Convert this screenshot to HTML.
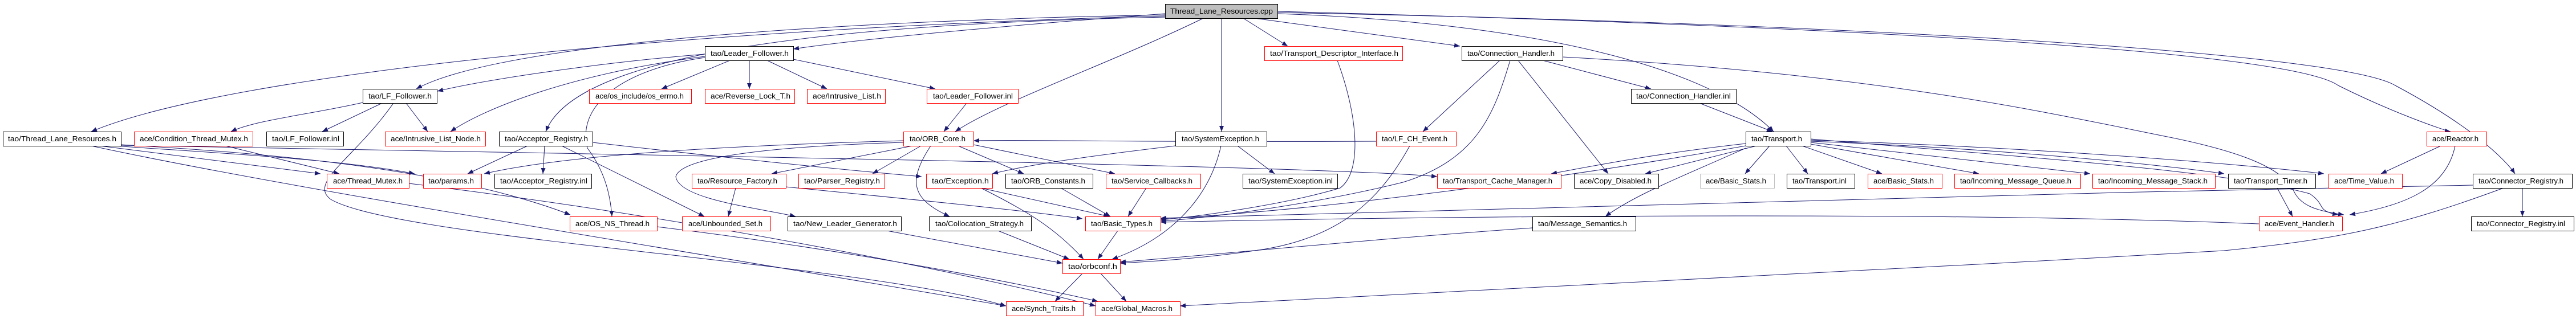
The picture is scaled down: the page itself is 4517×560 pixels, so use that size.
<!DOCTYPE html>
<html><head><meta charset="utf-8"><style>
html,body{margin:0;padding:0;background:#fff;}
svg{display:block;}
text{font-family:"Liberation Sans",sans-serif;font-size:12.5px;fill:#000;}
.e{stroke:#191970;stroke-width:1;fill:none;marker-end:url(#a);}
.b{fill:#fff;stroke:#000;stroke-width:1;}
.r{fill:#fff;stroke:#ff0000;stroke-width:1;}
.g{fill:#fff;stroke:#bfbfbf;stroke-width:1;}
</style></head><body>
<svg width="4517" height="560" viewBox="0 0 4517 560" xmlns="http://www.w3.org/2000/svg">
<defs><marker id="a" markerUnits="userSpaceOnUse" markerWidth="11" markerHeight="8" refX="10" refY="4" orient="auto"><path d="M0,0 L10,4 L0,8 z" fill="#191970"/></marker></defs>
<g>
<path class="e" d="M2043,28 C1200,50 400,130 160,231"/>
<path class="e" d="M2043,26 C1300,40 850,90 730,156"/>
<path class="e" d="M2043,24 C1700,50 1500,70 1391,86"/>
<path class="e" d="M2043,30 C1300,45 1000,120 957,231"/>
<path class="e" d="M2110,32 C1950,110 1750,180 1675,231"/>
<path class="e" d="M2142,32 L2142,231"/>
<path class="e" d="M2180,32 L2258,81"/>
<path class="e" d="M2200,32 L2560,81"/>
<path class="e" d="M2241,24 C2700,40 3000,120 3110,231"/>
<path class="e" d="M2241,20 C3000,40 4000,80 4100,150 C4200,200 4290,230 4297,231"/>
<path class="e" d="M2241,22 C3200,40 4100,90 4200,150 C4350,230 4400,290 4410,305"/>
<path class="e" d="M1236,95 C1050,110 850,140 767,160"/>
<path class="e" d="M1236,99 C1000,130 850,190 790,231"/>
<path class="e" d="M1280,106 L1160,156"/>
<path class="e" d="M1314,106 L1314,156"/>
<path class="e" d="M1345,106 L1450,156"/>
<path class="e" d="M1391,104 L1640,156"/>
<path class="e" d="M1236,101 C1100,120 1010,180 1030,260 C1060,300 1070,340 1073,380"/>
<path class="e" d="M636,180 C550,200 450,210 405,231"/>
<path class="e" d="M670,181 L565,231"/>
<path class="e" d="M712,181 L750,231"/>
<path class="e" d="M690,181 C620,280 540,320 580,350 C700,420 1500,460 1764,537"/>
<path class="e" d="M175,256 L562,305"/>
<path class="e" d="M200,256 C400,270 600,280 727,305"/>
<path class="e" d="M212,254 C500,270 800,300 1000,377"/>
<path class="e" d="M212,255 C1000,270 2300,290 2520,310"/>
<path class="e" d="M160,256 C500,330 1200,440 1764,537"/>
<path class="e" d="M395,256 L595,305"/>
<path class="e" d="M717,322 C1200,380 1700,480 1921,537"/>
<path class="e" d="M1152,398 C1500,440 1800,500 1925,529"/>
<path class="e" d="M925,256 L820,305"/>
<path class="e" d="M955,256 L952,305"/>
<path class="e" d="M985,256 L1235,380"/>
<path class="e" d="M1039,250 C1300,280 1500,300 1616,310"/>
<path class="e" d="M1584,247 C1300,255 1000,270 849,305"/>
<path class="e" d="M1600,256 L1353,305"/>
<path class="e" d="M1615,256 L1530,305"/>
<path class="e" d="M1680,256 L1795,305"/>
<path class="e" d="M1707,254 L1955,305"/>
<path class="e" d="M1632,256 C1590,320 1600,350 1665,380"/>
<path class="e" d="M1584,250 C1250,260 1190,290 1185,310 C1190,350 1330,365 1395,380"/>
<path class="e" d="M1695,181 L1655,231"/>
<path class="e" d="M2061,256 C1900,275 1800,290 1740,305"/>
<path class="e" d="M2170,256 L2235,305"/>
<path class="e" d="M2141,256 C2120,350 2050,420 1950,455"/>
<path class="e" d="M1290,330 L1277,380"/>
<path class="e" d="M1378,328 C1600,350 1800,370 1898,384"/>
<path class="e" d="M1720,330 L1945,380"/>
<path class="e" d="M1720,330 C1800,370 1850,400 1900,455"/>
<path class="e" d="M1860,330 L1947,380"/>
<path class="e" d="M2010,330 L1978,380"/>
<path class="e" d="M1750,405 L1875,455"/>
<path class="e" d="M1555,405 L1863,462"/>
<path class="e" d="M1960,405 L1925,455"/>
<path class="e" d="M1898,480 L1850,529"/>
<path class="e" d="M1930,480 L1975,529"/>
<path class="e" d="M2345,106 C2380,200 2390,300 2350,330 C2250,360 2100,380 2035,386"/>
<path class="e" d="M2630,106 L2495,231"/>
<path class="e" d="M2705,106 L2895,156"/>
<path class="e" d="M2662,106 L2820,305"/>
<path class="e" d="M2648,106 C2620,200 2590,280 2460,320 C2300,360 2100,385 2035,388"/>
<path class="e" d="M2740,100 C3300,130 3600,200 3800,240 C3950,270 4000,300 4020,330 C4030,360 4060,370 4110,377"/>
<path class="e" d="M2980,181 L3108,231"/>
<path class="e" d="M2472,256 C2420,350 2350,420 2200,440 C2100,455 2000,460 1964,462"/>
<path class="e" d="M2413,248 C2000,250 1800,245 1707,247"/>
<path class="e" d="M3061,252 C2900,270 2800,290 2720,305"/>
<path class="e" d="M3080,256 L2885,305"/>
<path class="e" d="M3103,256 L3060,305"/>
<path class="e" d="M3132,256 L3170,305"/>
<path class="e" d="M3160,256 L3300,305"/>
<path class="e" d="M3175,253 L3470,305"/>
<path class="e" d="M3175,250 L3665,305"/>
<path class="e" d="M3175,248 C3500,260 3800,290 3900,305"/>
<path class="e" d="M3175,246 C3600,260 3950,290 4075,305"/>
<path class="e" d="M3061,260 C2950,310 2870,340 2815,380"/>
<path class="e" d="M3061,256 C2700,320 2300,370 2035,384"/>
<path class="e" d="M3175,244 C3600,280 3900,300 4050,340 C4080,360 4060,370 4100,377"/>
<path class="e" d="M4280,256 L4175,305"/>
<path class="e" d="M4305,256 C4290,330 4220,360 4120,377"/>
<path class="e" d="M3993,330 L4020,380"/>
<path class="e" d="M3961,393 C3400,370 2500,380 2035,390"/>
<path class="e" d="M4423,330 L4423,380"/>
<path class="e" d="M4336,325 C3500,340 2500,370 2035,383"/>
<path class="e" d="M4390,330 C4200,400 4100,420 3900,440 C3200,480 2400,520 2069,537"/>
<path class="e" d="M2687,400 C2400,420 2100,450 1964,460"/>
</g>
<g>
<rect x="2043.5" y="7.5" width="197" height="25" fill="#bfbfbf" stroke="#000"/><text x="2052" y="24" textLength="180" lengthAdjust="spacingAndGlyphs">Thread_Lane_Resources.cpp</text>
<rect class="b" x="5.5" y="231.5" width="207" height="25"/><text x="14" y="248" textLength="190" lengthAdjust="spacingAndGlyphs">tao/Thread_Lane_Resources.h</text>
<rect class="r" x="235.5" y="231.5" width="208" height="25"/><text x="245" y="248" textLength="190" lengthAdjust="spacingAndGlyphs">ace/Condition_Thread_Mutex.h</text>
<rect class="b" x="467.5" y="231.5" width="135" height="25"/><text x="477" y="248" textLength="118" lengthAdjust="spacingAndGlyphs">tao/LF_Follower.inl</text>
<rect class="r" x="675.5" y="231.5" width="176" height="25"/><text x="685" y="248" textLength="158" lengthAdjust="spacingAndGlyphs">ace/Intrusive_List_Node.h</text>
<rect class="r" x="573.5" y="305.5" width="144" height="25"/><text x="584" y="322" textLength="122" lengthAdjust="spacingAndGlyphs">ace/Thread_Mutex.h</text>
<rect class="r" x="742.5" y="305.5" width="102" height="25"/><text x="751" y="322" textLength="80" lengthAdjust="spacingAndGlyphs">tao/params.h</text>
<rect class="b" x="636.5" y="156.5" width="130" height="25"/><text x="646" y="173" textLength="111" lengthAdjust="spacingAndGlyphs">tao/LF_Follower.h</text>
<rect class="b" x="1236.5" y="81.5" width="155" height="25"/><text x="1246" y="98" textLength="137" lengthAdjust="spacingAndGlyphs">tao/Leader_Follower.h</text>
<rect class="r" x="1033.5" y="156.5" width="179" height="25"/><text x="1044" y="173" textLength="155" lengthAdjust="spacingAndGlyphs">ace/os_include/os_errno.h</text>
<rect class="r" x="1236.5" y="156.5" width="157" height="25"/><text x="1246" y="173" textLength="140" lengthAdjust="spacingAndGlyphs">ace/Reverse_Lock_T.h</text>
<rect class="r" x="1415.5" y="156.5" width="137" height="25"/><text x="1425" y="173" textLength="120" lengthAdjust="spacingAndGlyphs">ace/Intrusive_List.h</text>
<rect class="b" x="875.5" y="231.5" width="164" height="25"/><text x="885" y="248" textLength="146" lengthAdjust="spacingAndGlyphs">tao/Acceptor_Registry.h</text>
<rect class="b" x="867.5" y="305.5" width="170" height="25"/><text x="877" y="322" textLength="153" lengthAdjust="spacingAndGlyphs">tao/Acceptor_Registry.inl</text>
<rect class="r" x="1213.5" y="305.5" width="165" height="25"/><text x="1223" y="322" textLength="140" lengthAdjust="spacingAndGlyphs">tao/Resource_Factory.h</text>
<rect class="r" x="1400.5" y="305.5" width="151" height="25"/><text x="1410" y="322" textLength="133" lengthAdjust="spacingAndGlyphs">tao/Parser_Registry.h</text>
<rect class="r" x="999.5" y="380.5" width="153" height="25"/><text x="1009" y="397" textLength="130" lengthAdjust="spacingAndGlyphs">ace/OS_NS_Thread.h</text>
<rect class="r" x="1196.5" y="380.5" width="155" height="25"/><text x="1207" y="397" textLength="130" lengthAdjust="spacingAndGlyphs">ace/Unbounded_Set.h</text>
<rect class="b" x="1381.5" y="380.5" width="199" height="25"/><text x="1391" y="397" textLength="182" lengthAdjust="spacingAndGlyphs">tao/New_Leader_Generator.h</text>
<rect class="r" x="2217.5" y="81.5" width="242" height="25"/><text x="2227" y="98" textLength="225" lengthAdjust="spacingAndGlyphs">tao/Transport_Descriptor_Interface.h</text>
<rect class="r" x="1625.5" y="156.5" width="160" height="25"/><text x="1636" y="173" textLength="140" lengthAdjust="spacingAndGlyphs">tao/Leader_Follower.inl</text>
<rect class="r" x="1584.5" y="231.5" width="123" height="25"/><text x="1595" y="248" textLength="98" lengthAdjust="spacingAndGlyphs">tao/ORB_Core.h</text>
<rect class="b" x="2061.5" y="231.5" width="160" height="25"/><text x="2072" y="248" textLength="136" lengthAdjust="spacingAndGlyphs">tao/SystemException.h</text>
<rect class="r" x="1624.5" y="305.5" width="116" height="25"/><text x="1634" y="322" textLength="100" lengthAdjust="spacingAndGlyphs">tao/Exception.h</text>
<rect class="b" x="1763.5" y="305.5" width="153" height="25"/><text x="1773" y="322" textLength="130" lengthAdjust="spacingAndGlyphs">tao/ORB_Constants.h</text>
<rect class="r" x="1939.5" y="305.5" width="166" height="25"/><text x="1949" y="322" textLength="142" lengthAdjust="spacingAndGlyphs">tao/Service_Callbacks.h</text>
<rect class="b" x="2179.5" y="305.5" width="166" height="25"/><text x="2189" y="322" textLength="148" lengthAdjust="spacingAndGlyphs">tao/SystemException.inl</text>
<rect class="b" x="1629.5" y="380.5" width="179" height="25"/><text x="1640" y="397" textLength="155" lengthAdjust="spacingAndGlyphs">tao/Collocation_Strategy.h</text>
<rect class="r" x="1903.5" y="380.5" width="132" height="25"/><text x="1913" y="397" textLength="108" lengthAdjust="spacingAndGlyphs">tao/Basic_Types.h</text>
<rect class="r" x="1863.5" y="455.5" width="101" height="25"/><text x="1873" y="472" textLength="86" lengthAdjust="spacingAndGlyphs">tao/orbconf.h</text>
<rect class="r" x="1764.5" y="529.5" width="135" height="25"/><text x="1774" y="546" textLength="112" lengthAdjust="spacingAndGlyphs">ace/Synch_Traits.h</text>
<rect class="r" x="1921.5" y="529.5" width="148" height="25"/><text x="1931" y="546" textLength="125" lengthAdjust="spacingAndGlyphs">ace/Global_Macros.h</text>
<rect class="b" x="2563.5" y="81.5" width="177" height="25"/><text x="2573" y="98" textLength="153" lengthAdjust="spacingAndGlyphs">tao/Connection_Handler.h</text>
<rect class="b" x="2860.5" y="156.5" width="184" height="25"/><text x="2869" y="173" textLength="166" lengthAdjust="spacingAndGlyphs">tao/Connection_Handler.inl</text>
<rect class="r" x="2413.5" y="231.5" width="140" height="25"/><text x="2423" y="248" textLength="115" lengthAdjust="spacingAndGlyphs">tao/LF_CH_Event.h</text>
<rect class="r" x="2520.5" y="305.5" width="217" height="25"/><text x="2530" y="322" textLength="192" lengthAdjust="spacingAndGlyphs">tao/Transport_Cache_Manager.h</text>
<rect class="b" x="2760.5" y="305.5" width="148" height="25"/><text x="2770" y="322" textLength="126" lengthAdjust="spacingAndGlyphs">ace/Copy_Disabled.h</text>
<rect class="g" x="2981.5" y="305.5" width="130" height="25"/><text x="2991" y="322" textLength="106" lengthAdjust="spacingAndGlyphs">ace/Basic_Stats.h</text>
<rect class="b" x="2687.5" y="380.5" width="181" height="25"/><text x="2697" y="397" textLength="156" lengthAdjust="spacingAndGlyphs">tao/Message_Semantics.h</text>
<rect class="b" x="3061.5" y="231.5" width="114" height="25"/><text x="3071" y="248" textLength="89" lengthAdjust="spacingAndGlyphs">tao/Transport.h</text>
<rect class="b" x="3133.5" y="305.5" width="119" height="25"/><text x="3143" y="322" textLength="95" lengthAdjust="spacingAndGlyphs">tao/Transport.inl</text>
<rect class="r" x="3275.5" y="305.5" width="130" height="25"/><text x="3285" y="322" textLength="106" lengthAdjust="spacingAndGlyphs">ace/Basic_Stats.h</text>
<rect class="r" x="3427.5" y="305.5" width="221" height="25"/><text x="3437" y="322" textLength="195" lengthAdjust="spacingAndGlyphs">tao/Incoming_Message_Queue.h</text>
<rect class="r" x="3669.5" y="305.5" width="215" height="25"/><text x="3679" y="322" textLength="192" lengthAdjust="spacingAndGlyphs">tao/Incoming_Message_Stack.h</text>
<rect class="b" x="3907.5" y="305.5" width="153" height="25"/><text x="3917" y="322" textLength="129" lengthAdjust="spacingAndGlyphs">tao/Transport_Timer.h</text>
<rect class="r" x="4083.5" y="305.5" width="129" height="25"/><text x="4093" y="322" textLength="105" lengthAdjust="spacingAndGlyphs">ace/Time_Value.h</text>
<rect class="r" x="4255.5" y="231.5" width="105" height="25"/><text x="4265" y="248" textLength="81" lengthAdjust="spacingAndGlyphs">ace/Reactor.h</text>
<rect class="b" x="4336.5" y="305.5" width="174" height="25"/><text x="4346" y="322" textLength="149" lengthAdjust="spacingAndGlyphs">tao/Connector_Registry.h</text>
<rect class="r" x="3961.5" y="380.5" width="146" height="25"/><text x="3971" y="397" textLength="122" lengthAdjust="spacingAndGlyphs">ace/Event_Handler.h</text>
<rect class="b" x="4333.5" y="380.5" width="180" height="25"/><text x="4343" y="397" textLength="155" lengthAdjust="spacingAndGlyphs">tao/Connector_Registry.inl</text>
</g>
</svg>
</body></html>
